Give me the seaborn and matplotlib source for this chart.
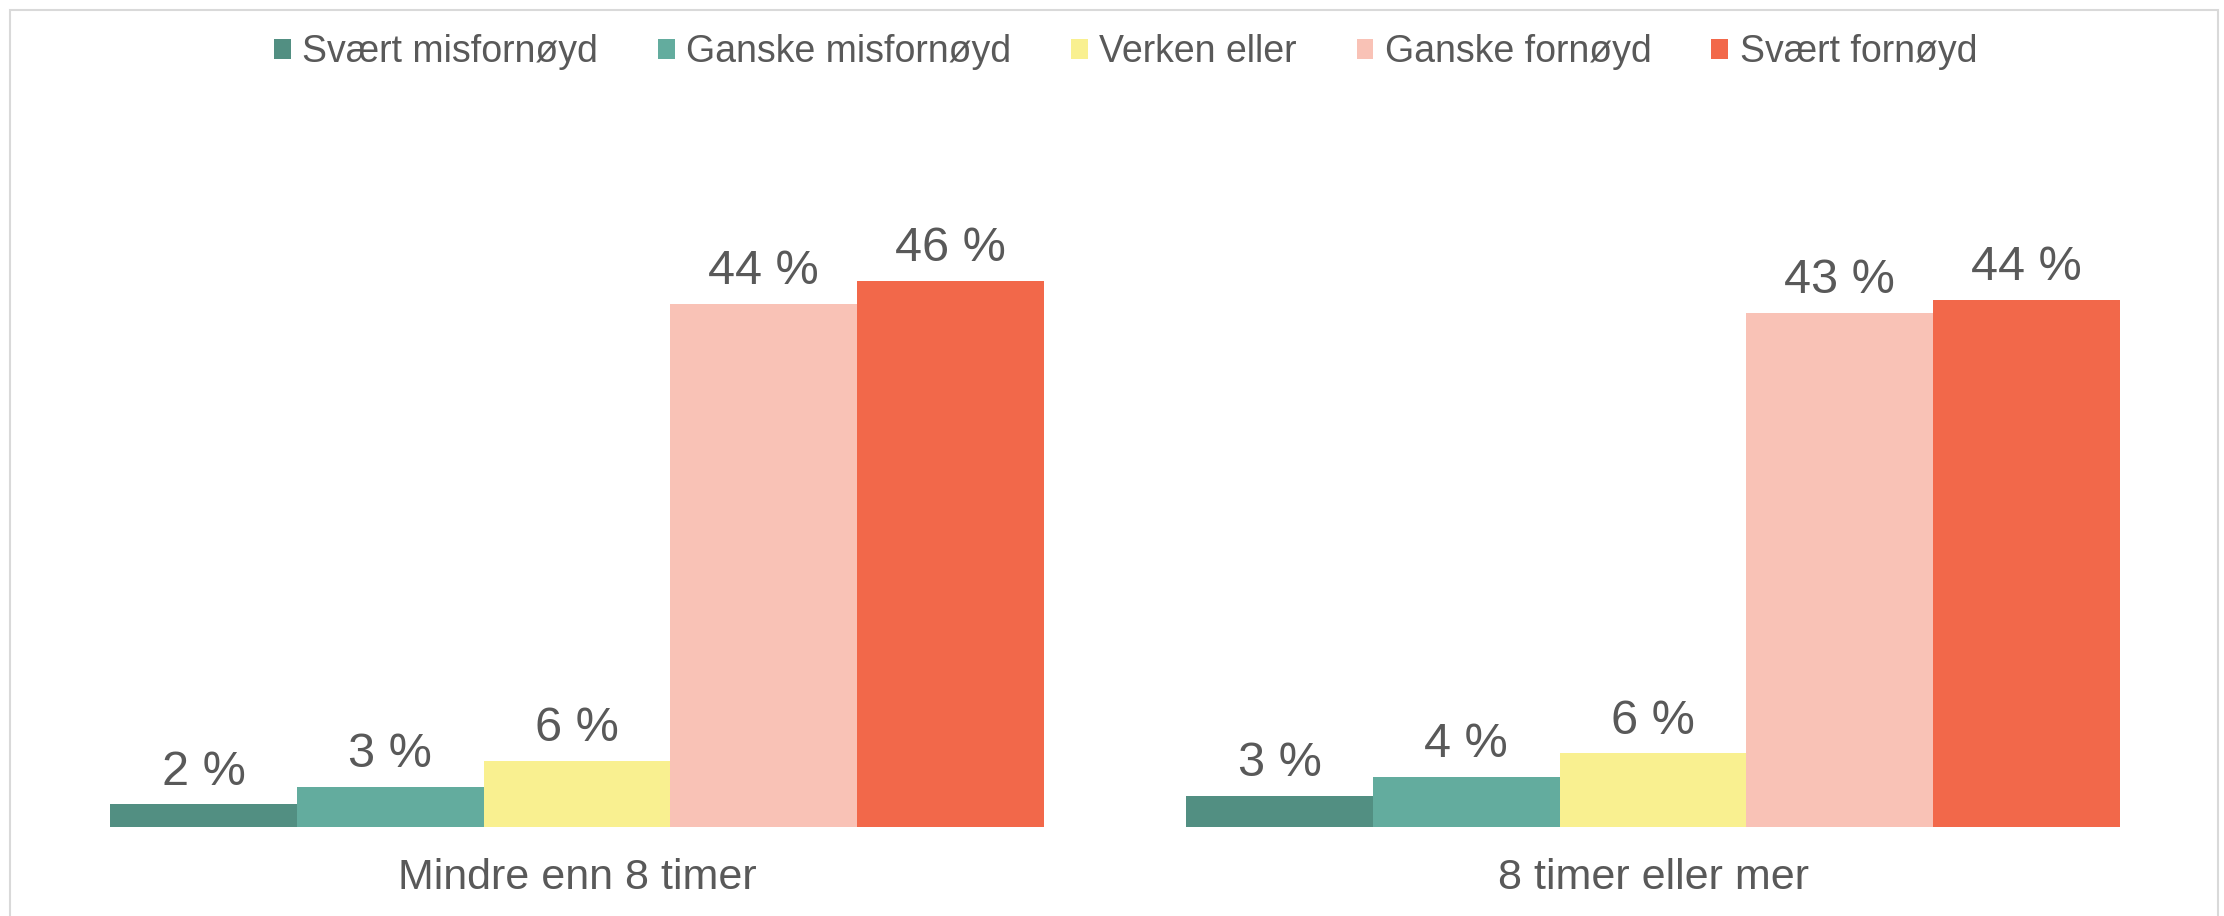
import numpy as np
import pandas as pd
import seaborn as sns
import matplotlib.pyplot as plt
from matplotlib.patches import Rectangle

sns.set_theme(style="white")
plt.rcParams['font.family'] = ['Liberation Sans', 'DejaVu Sans']

groups = ["Mindre enn 8 timer", "8 timer eller mer"]
answers = ["Svært misfornøyd", "Ganske misfornøyd", "Verken eller",
           "Ganske fornøyd", "Svært fornøyd"]
# share in percent
mindre_enn_8 = [1.9, 3.4, 5.6, 44.1, 46.0]
over_8 = [2.6, 4.2, 6.2, 43.3, 44.45]
colors = ["#528F82", "#63AC9E", "#F9F090", "#F9C2B6", "#F2684A"]
text_color = "#595959"

df = pd.DataFrame({
    "group": np.repeat(groups, len(answers)),
    "answer": answers * len(groups),
    "pct": mindre_enn_8 + over_8,
})

fig = plt.figure(figsize=(22.24, 9.16), dpi=100)
ax = fig.add_axes([39 / 2224, 89 / 916, 2152 / 2224, 712 / 916])

sns.barplot(data=df, x="group", y="pct", hue="answer", order=groups,
            hue_order=answers, palette=colors, width=0.8675, gap=0,
            saturation=1, linewidth=0, legend=True, ax=ax)

for container in ax.containers:
    labels = [f"{b.get_height():.0f} %" for b in container]
    ax.bar_label(container, labels=labels, padding=7, fontsize=35,
                 color=text_color)

ax.set_xlim(-0.5, 1.5)
ax.set_ylim(0, 60)
ax.set_xlabel("")
ax.set_ylabel("")
ax.set_yticks([])
ax.tick_params(axis="x", length=0, labelsize=31, labelcolor=text_color, pad=22)
sns.despine(ax=ax, left=True, bottom=True)

handles, labs = ax.get_legend_handles_labels()
ax.get_legend().remove()
fig.legend(handles, labs, loc="center", bbox_to_anchor=(0.506, 1 - 52 / 916),
           ncol=5, frameon=False, fontsize=27, labelcolor=text_color,
           handlelength=0.45, handleheight=0.45, handletextpad=0.3,
           columnspacing=1.6)

fig.patches.append(Rectangle((10 / 2224, -0.01), 2208 / 2224, 1 - 10 / 916 + 0.01,
                             transform=fig.transFigure, fill=False,
                             edgecolor="#D9D9D9", linewidth=1.5))

fig.savefig("out.png", dpi=100)
